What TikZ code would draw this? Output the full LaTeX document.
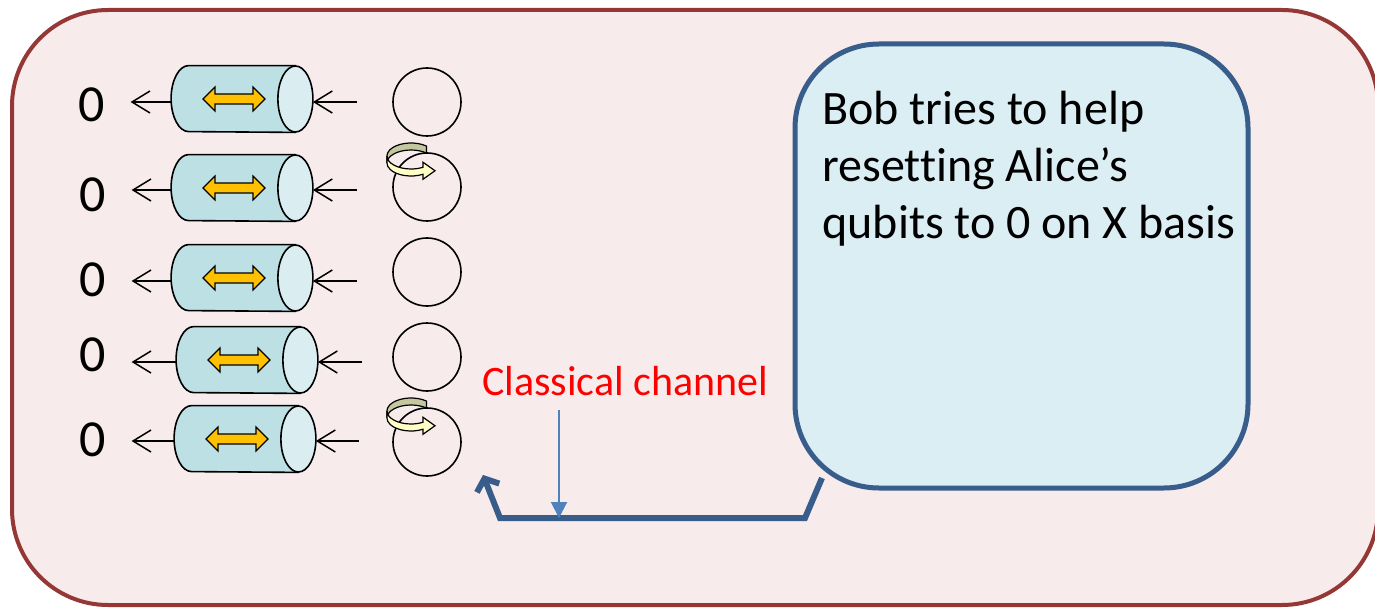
\documentclass[tikz,border=0pt]{standalone}
\usepackage{fontspec}
\setmainfont{Carlito}[Ligatures=NoCommon]
\usetikzlibrary{arrows.meta,calc}

\definecolor{framered}{HTML}{953735}
\definecolor{framefill}{HTML}{F7EBEC}
\definecolor{cylbody}{HTML}{BCE0E3}
\definecolor{cylend}{HTML}{DAEEF1}
\definecolor{bobline}{HTML}{385D8A}
\definecolor{bobfill}{HTML}{DBEEF4}
\definecolor{axisgold}{HTML}{FFC000}
\definecolor{spinback}{HTML}{C4C79F}
\definecolor{spinfront}{HTML}{FFFFC6}
\definecolor{tapblue}{HTML}{4F81BD}

\tikzset{
  zero/.style={font=\fontsize{26}{30}\selectfont, inner sep=0pt},
  filter/.style={minimum width=70.5pt, minimum height=33pt, inner sep=0pt},
  qubit/.style={circle, draw, line width=0.8pt, minimum size=34pt, inner sep=0pt},
  beam/.style={line width=0.75pt, -{Straight Barb[length=9pt,width=11pt]}},
  bobbox/.style={draw=bobline, fill=bobfill, line width=2.5pt, rounded corners=42pt,
    minimum width=226.5pt, minimum height=222pt},
  bobtext/.style={font=\fontsize{24}{28.5}\selectfont, align=left, inner sep=0pt},
  chan/.style={draw=bobline, line width=3pt, -{Straight Barb[length=5pt,width=12pt]}},
  tap/.style={tapblue, line width=1pt, -{Triangle[length=8pt,width=8pt]}},
}

% cylinder body, end face and yellow double arrow of a filter
\newcommand{\drawfilter}[1]{%
  \filldraw[fill=cylbody, line width=0.8pt] ($(#1.north east)+(-17.5,0)$)
    -- ($(#1.north west)+(17.5,0)$)
    arc[start angle=-90, end angle=-270, x radius=17.5, y radius=33]
    -- ($(#1.south east)+(-17.5,0)$) -- cycle;
  \filldraw[fill=cylend, line width=0.8pt] ($(#1.east)+(-17.5,0)$) ellipse[x radius=17.5, y radius=33];
  \draw[fill=axisgold, line width=0.6pt] ($(#1.center)+(-39,0)$) -- ++(12,-12) -- ++(0,7)
    -- ++(38,0) -- ++(0,-7) -- ++(12,12) -- ++(-12,12) -- ++(0,-7) -- ++(-38,0)
    -- ++(0,7) -- cycle;}

% twisted ribbon over a qubit
\newcommand{\spinmark}[1]{%
  \coordinate (sc) at ($(#1)+(-16,-31)$);
  \draw[fill=spinback, line width=0.6pt] ($(sc)+(-50:24 and 13)$)
    arc[start angle=-50, end angle=-180, x radius=24, y radius=13] -- ++(0,7)
    arc[start angle=-180, end angle=-50, x radius=24, y radius=13] -- cycle;
  \draw[fill=spinfront, line width=0.6pt] ($(sc)+(180:24 and 13)$)
    arc[start angle=180, end angle=60, x radius=24, y radius=13]
    -- ++(0,-5) -- ++(12,8.5) -- ++(-12,8.5) -- ++(0,-5)
    arc[start angle=60, end angle=180, x radius=24, y radius=13] -- cycle;}

\begin{document}
\begin{tikzpicture}[x=0.5pt, y=-0.5pt]
    \useasboundingbox (0,0) rectangle (1375,609);
    \clip (0,0) rectangle (1375,609);

    % outer frame
    \draw[framered, fill=framefill, line width=2pt, rounded corners=48pt] (12,10) rectangle (1378,605);

    % zeros
    \node[zero] (z1) at (92,105) {0};
    \node[zero] (z2) at (93,195) {0};
    \node[zero] (z3) at (93,280) {0};
    \node[zero] (z4) at (93,355) {0};
    \node[zero] (z5) at (93,440) {0};

    % filters
    \node[filter] (f1) at (242,99) {};
    \node[filter] (f2) at (242,188) {};
    \node[filter] (f3) at (242,278) {};
    \node[filter] (f4) at (247,360) {};
    \node[filter] (f5) at (245,439) {};
    \drawfilter{f1}
    \drawfilter{f2}
    \drawfilter{f3}
    \drawfilter{f4}
    \drawfilter{f5}

    % qubits
    \node[qubit] (q1) at (427,102) {};
    \node[qubit] (q2) at (427,187) {};
    \node[qubit] (q3) at (427,272) {};
    \node[qubit] (q4) at (427,357) {};
    \node[qubit] (q5) at (427,442) {};
    \spinmark{q2}
    \spinmark{q5}

    % beams in and out
    \coordinate (s1) at (357,102);
    \coordinate (s2) at (357,190);
    \coordinate (s3) at (357,281);
    \coordinate (s4) at (362,362);
    \coordinate (s5) at (359,441);
    \draw[beam] (s1) -- (f1.east |- s1);
    \draw[beam] (s2) -- (f2.east |- s2);
    \draw[beam] (s3) -- (f3.east |- s3);
    \draw[beam] (s4) -- (f4.east |- s4);
    \draw[beam] (s5) -- (f5.east |- s5);
    \draw[beam] (f1.west |- s1) -- ($(z1.east |- s1)+(25,0)$);
    \draw[beam] (f2.west |- s2) -- ($(z2.east |- s2)+(25,0)$);
    \draw[beam] (f3.west |- s3) -- ($(z3.east |- s3)+(25,0)$);
    \draw[beam] (f4.west |- s4) -- ($(z4.east |- s4)+(25,0)$);
    \draw[beam] (f5.west |- s5) -- ($(z5.east |- s5)+(25,0)$);

    % Bob
    \node[bobbox] (bob) at (1021.5,266) {};
    \node[bobtext, anchor=north west] (msg) at (822,91)
        {Bob tries to help\\resetting Alice’s\\qubits to 0 on X basis};

    % classical channel back to the qubits
    \coordinate (c1) at (822,478);
    \coordinate (c2) at (805,518);
    \coordinate (c3) at (500,518);
    \coordinate (c4) at (483,475);
    \draw[chan] (c1) -- (c2) -- (c3) -- (c4);

    \node[red, font=\fontsize{21}{24}\selectfont, inner sep=0pt] (cc) at (625,381) {Classical channel};
    \coordinate (t0) at (559,410);
    \coordinate (t1) at (559,518);
    \draw[tap] (t0) -- (t1);
\end{tikzpicture}
\end{document}
